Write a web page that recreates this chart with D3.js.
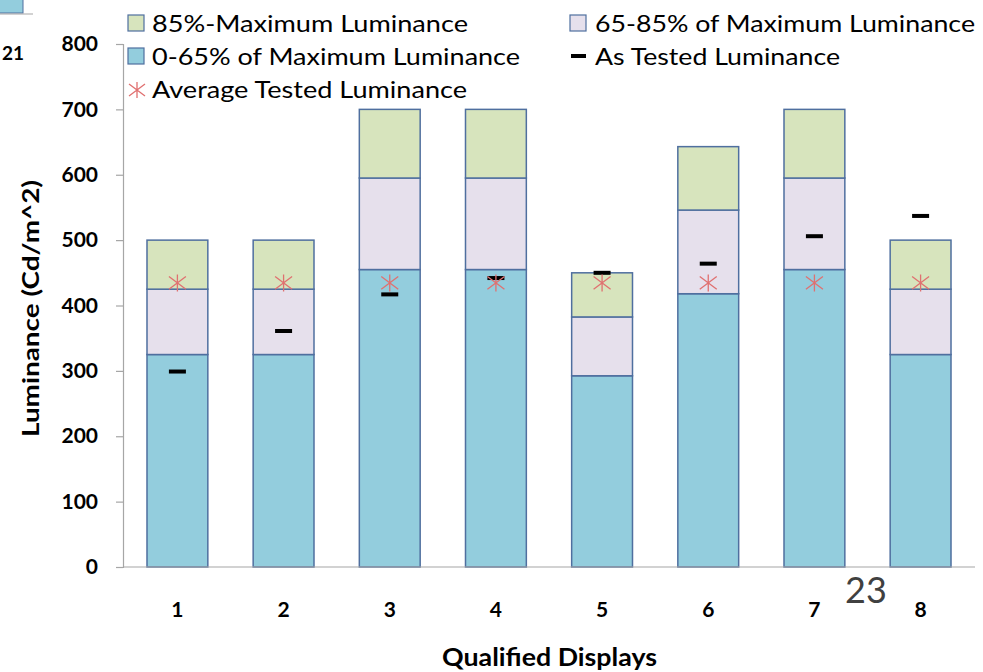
<!DOCTYPE html>
<html>
<head>
<meta charset="utf-8">
<script src="https://cdn.jsdelivr.net/npm/d3@7"></script>
<style>
  html, body { margin: 0; padding: 0; background: #fff; }
  svg { display: block; }
  text { font-family: Lato, "Open Sans", sans-serif; }
</style>
</head>
<body>
<svg id="chart" width="983" height="672"></svg>
<script>
// Displays on the x axis
const displays = ["1", "2", "3", "4", "5", "6", "7", "8"];
// Stacked luminance bands (cd/m^2) per display
const band0to65 = [325, 325, 455, 455, 292.5, 418, 455, 325];
const band65to85 = [100, 100, 140, 140, 90, 128, 140, 100];
const band85toMax = [75, 75, 105, 105, 67.5, 97, 105, 75];
// Measured luminance of each display
const asTested = [299, 361, 417, 442, 450, 464, 506, 537];
// Average of the measured values, shown on every display
const averageTested = [434.5, 434.5, 434.5, 434.5, 434.5, 434.5, 434.5, 434.5];
// Y axis ticks
const yTicks = [0, 100, 200, 300, 400, 500, 600, 700, 800];

const colors = {
  low: "#93cddd",
  mid: "#e6e0ec",
  high: "#d7e4bd",
  barStroke: "#4f6f9f",
  star: "#e07070",
  axis: "#a6a6a6"
};

const svg = d3.select("#chart");
const plot = { left: 123, right: 975, top: 44, bottom: 567 };

const x = d3.scaleBand()
  .domain(displays)
  .range([plot.left, plot.right])
  .paddingInner(0.427)
  .paddingOuter(0.226);

const y = d3.scaleLinear()
  .domain([0, 800])
  .range([plot.bottom, plot.top]);

// Stack the three bands
const rows = displays.map((d, i) => ({
  display: d,
  low: band0to65[i],
  mid: band65to85[i],
  high: band85toMax[i]
}));
const keys = ["low", "mid", "high"];
const stacked = d3.stack().keys(keys)(rows);

svg.append("g")
  .selectAll("g")
  .data(stacked)
  .join("g")
  .attr("fill", s => colors[s.key])
  .selectAll("rect")
  .data(s => s)
  .join("rect")
  .attr("x", d => x(d.data.display))
  .attr("width", x.bandwidth())
  .attr("y", d => y(d[1]))
  .attr("height", d => y(d[0]) - y(d[1]))
  .attr("stroke", colors.barStroke)
  .attr("stroke-width", 1.5);

// Y axis
const yAxis = svg.append("g")
  .attr("transform", `translate(${plot.left},0)`)
  .call(d3.axisLeft(y).tickValues(yTicks).tickSize(7).tickPadding(18));
yAxis.select(".domain").attr("stroke", colors.axis).attr("stroke-width", 1.2);
yAxis.selectAll(".tick line").attr("stroke", colors.axis).attr("stroke-width", 1.2);
yAxis.selectAll(".tick text")
  .attr("font-family", "Lato, sans-serif")
  .attr("font-size", 21)
  .attr("font-weight", "bold")
  .attr("fill", "#000");

// X axis
const xAxis = svg.append("g")
  .attr("transform", `translate(0,${plot.bottom})`)
  .call(d3.axisBottom(x).tickSize(0).tickPadding(35));
xAxis.select(".domain").attr("stroke", colors.axis).attr("stroke-width", 1.2)
  .attr("d", `M${plot.left},0H${plot.right}`);
xAxis.selectAll(".tick text")
  .attr("font-family", "Lato, sans-serif")
  .attr("font-size", 21)
  .attr("font-weight", "bold")
  .attr("fill", "#000");

// As-tested markers (short black dashes)
svg.append("g")
  .selectAll("rect")
  .data(displays)
  .join("rect")
  .attr("x", d => x(d) + x.bandwidth() / 2 - 8.5)
  .attr("y", (d, i) => y(asTested[i]) - 2)
  .attr("width", 17)
  .attr("height", 4)
  .attr("fill", "#000");

// Average-tested markers (asterisks)
function asterisk(g, cx, cy, r) {
  const k = r;
  const v = r * 0.75;
  g.append("path")
    .attr("d", `M${cx},${cy - r}V${cy + r}M${cx - k},${cy - v}L${cx + k},${cy + v}M${cx - k},${cy + v}L${cx + k},${cy - v}`)
    .attr("stroke", colors.star)
    .attr("stroke-width", 1.3)
    .attr("fill", "none");
}
const starG = svg.append("g");
displays.forEach((d, i) => {
  asterisk(starG, x(d) + x.bandwidth() / 2, y(averageTested[i]), 8.5);
});

// Axis titles
svg.append("text")
  .attr("x", 442)
  .attr("y", 666)
  .attr("font-size", 25)
  .attr("font-weight", "bold")
  .attr("textLength", 215)
  .attr("lengthAdjust", "spacingAndGlyphs")
  .text("Qualified Displays");

svg.append("text")
  .attr("transform", "translate(39,437) rotate(-90)")
  .attr("font-size", 23)
  .attr("font-weight", "bold")
  .attr("textLength", 257)
  .attr("lengthAdjust", "spacingAndGlyphs")
  .text("Luminance (Cd/m^2)");

// Legend
const legend = svg.append("g").attr("font-size", 24).attr("fill", "#000");
function legendBox(lx, ly, fill) {
  legend.append("rect")
    .attr("x", lx).attr("y", ly).attr("width", 16).attr("height", 16)
    .attr("fill", fill).attr("stroke", colors.barStroke).attr("stroke-width", 1.2);
}
function legendText(lx, ly, len, label) {
  legend.append("text")
    .attr("x", lx).attr("y", ly)
    .attr("textLength", len)
    .attr("lengthAdjust", "spacingAndGlyphs")
    .text(label);
}
legendBox(128, 15, colors.high);
legendText(152, 32, 316, "85%-Maximum Luminance");
legendBox(570, 15, colors.mid);
legendText(595, 32, 380, "65-85% of Maximum Luminance");
legendBox(128, 48, colors.low);
legendText(152, 65, 368, "0-65% of Maximum Luminance");
legend.append("rect").attr("x", 571).attr("y", 54).attr("width", 15).attr("height", 4).attr("fill", "#000");
legendText(595, 65, 245, "As Tested Luminance");
asterisk(legend, 137, 90, 8);
legendText(152, 98, 315, "Average Tested Luminance");

// Slide furniture around the chart
svg.append("rect").attr("x", -2).attr("y", -2).attr("width", 25).attr("height", 15)
  .attr("fill", colors.low).attr("stroke", colors.barStroke).attr("stroke-width", 1);
svg.append("line").attr("x1", 0).attr("x2", 33).attr("y1", 14).attr("y2", 14)
  .attr("stroke", colors.axis).attr("stroke-width", 1.2);
svg.append("text").attr("x", 2).attr("y", 60)
  .attr("font-size", 19).attr("font-weight", "bold").text("21");
svg.append("text").attr("x", 866).attr("y", 603)
  .attr("text-anchor", "middle")
  .attr("font-family", "Liberation Sans, Arial, sans-serif")
  .attr("font-size", 36).attr("fill", "#404040").text("23");
</script>
</body>
</html>
